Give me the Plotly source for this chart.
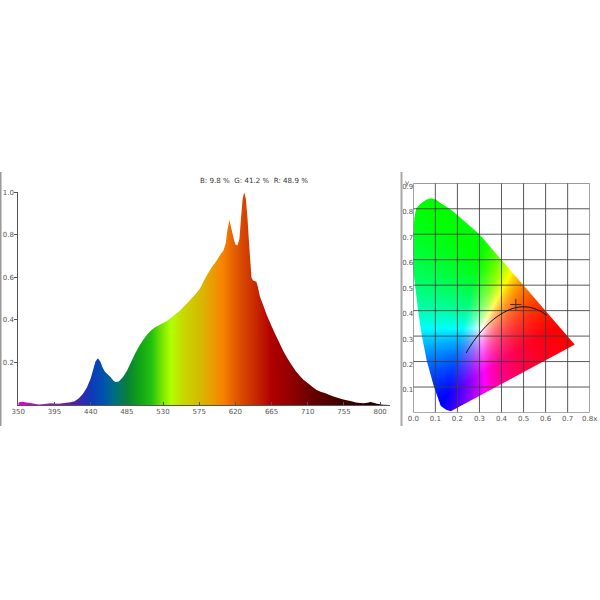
import numpy as np
import plotly.graph_objects as go

# ---------- spectrum ----------
wavelengths = [350,355,360,365,370,375,380,385,390,395,400,405,410,415,420,425,430,435,440,443,446,449,452,455,458,461,465,468,471,475,480,485,490,495,500,505,510,515,520,525,530,535,540,545,550,555,560,565,570,576,581,586,591,596,601,605,608,610,612.5,615,618,620,622.5,625,627,629,631,633,635,637,638.5,640,642,646,648,650.5,655,659,664,669,675,680,685,690,695,700,705,711,716,721,726,732,737,742,747,752,757,763,770,775,780,784,788,792,796,800,804,812]
intensity = [.012,.015,.012,.009,.006,.002,.004,.006,.008,.007,.006,.008,.01,.013,.018,.03,.05,.08,.125,.165,.205,.22,.205,.175,.155,.145,.13,.115,.108,.11,.13,.16,.2,.24,.275,.305,.33,.35,.365,.375,.385,.395,.41,.425,.44,.46,.478,.5,.52,.548,.585,.62,.65,.675,.705,.725,.76,.82,.87,.83,.78,.755,.75,.78,.88,.97,1.0,.97,.88,.76,.68,.6,.585,.58,.555,.51,.465,.423,.38,.337,.29,.25,.218,.188,.16,.138,.118,.10,.085,.07,.062,.055,.047,.04,.034,.028,.024,.019,.012,.009,.008,.011,.014,.01,.006,.003,.001,0]
color_stops = [(350,'#e000d8'),(385,'#b010b8'),(420,'#5020a8'),(440,'#1038b8'),(455,'#0050b0'),(470,'#006e80'),(485,'#088038'),(500,'#10a018'),(515,'#20c010'),(530,'#80e800'),(540,'#b0ff00'),(555,'#c8d800'),(575,'#d4bc00'),(590,'#e8a000'),(605,'#f88000'),(625,'#dc5000'),(645,'#c82800'),(665,'#b00000'),(690,'#900000'),(715,'#680000'),(750,'#400000'),(800,'#200000')]

wl_ticks = [350,395,440,485,530,575,620,665,710,755,800]
int_ticks = [0.2,0.4,0.6,0.8,1.0]
int_labels = ['0.2','0.4','0.6','0.8','1.0']

# ---------- chromaticity diagram, outline ----------
locus_x = [.172,.150,.126,.095,.063,.040,.023,.009,.002,0,.001,.006,.014,.028,.044,.062,.082,.104,.127,.155,.18,.24,.30,.35,.40,.45,.50,.60,.735,.172]
locus_y = [.003,.009,.024,.10,.20,.30,.40,.50,.55,.60,.70,.76,.80,.813,.825,.835,.84,.835,.82,.805,.79,.745,.70,.65,.60,.55,.50,.40,.265,.003]
planck_x = [.240,.2522,.2807,.3135,.3451,.3805,.4369,.4770,.5267,.5650,.5857,.606]
planck_y = [.234,.2521,.2884,.3237,.3516,.3768,.4041,.4137,.4133,.4027,.3931,.381]
point_x = [.465]
point_y = [.424]
xy_ticks_x = [0,.1,.2,.3,.4,.5,.6,.7,.8]
xy_ticks_y = [0,.1,.2,.3,.4,.5,.6,.7,.8,.9]
xy_labels_x = ['0.0','0.1','0.2','0.3','0.4','0.5','0.6','0.7','0.8x']
xy_labels_y = ['','0.1','0.2','0.3','0.4','0.5','0.6','0.7','0.8','0.9']

title_text = 'B: 9.8 %  G: 41.2 %  R: 48.9 %'
FONT = 'DejaVu Sans'
TICK = dict(family=FONT, size=7, color='#555555')
NX, NY, SS = 176, 229, 4


def field():
    nx, ny = NX * SS, NY * SS
    gx = (np.arange(nx) + .5) * .8 / nx
    gy = (np.arange(ny) + .5) * .9 / ny
    X, Y = np.meshgrid(gx, gy)
    Z = 1 - X - Y
    yy = np.maximum(Y, 1e-4)
    XX, ZZ = X / yy, Z / yy
    r = 3.2406 * XX - 1.5372 - .4986 * ZZ
    g = -.9689 * XX + 1.8758 + .0415 * ZZ
    b = .0557 * XX - .2040 + 1.0570 * ZZ
    rgb = np.clip(np.stack([r, g, b], -1), 0, None)
    rgb = rgb / rgb.max(-1, keepdims=True)
    px, py = np.array(locus_x), np.array(locus_y)
    inside = np.zeros(X.shape, bool)
    for i in range(len(px) - 1):
        x1, y1, x2, y2 = px[i], py[i], px[i + 1], py[i + 1]
        if y1 == y2:
            continue
        c = ((y1 > Y) != (y2 > Y)) & (X < (x2 - x1) * (Y - y1) / (y2 - y1) + x1)
        inside ^= c
    a = inside.astype(float)
    A = a.reshape(NY, SS, NX, SS).mean((1, 3))
    C = (rgb * a[..., None]).reshape(NY, SS, NX, SS, 3).sum((1, 3))
    C = C / np.maximum((a.reshape(NY, SS, NX, SS).sum((1, 3)))[..., None], 1)
    return np.dstack([np.round(C * 255), np.round(A, 3)])


fig = go.Figure()
lo, hi = color_stops[0][0], color_stops[-1][0]
fig.add_trace(go.Scatter(
    x=wavelengths, y=intensity, mode='none', fill='tozeroy', xaxis='x', yaxis='y',
    fillgradient=dict(type='horizontal', start=lo, stop=hi,
                      colorscale=[[(w - lo) / (hi - lo), c] for w, c in color_stops]),
    hoverinfo='skip', showlegend=False))

img = field()
fig.add_trace(go.Image(z=img[::-1].tolist(), colormodel='rgba', x0=.4/NX, dx=.8/NX,
                       y0=.9-.45/NY, dy=-.9/NY, xaxis='x2', yaxis='y2', hoverinfo='skip'))

gx, gy = [], []
for t in xy_ticks_x:
    gx += [t, t, None]
    gy += [0, .9, None]
for t in xy_ticks_y:
    gx += [0, .8, None]
    gy += [t, t, None]
fig.add_trace(go.Scatter(x=gx, y=gy, mode='lines', line=dict(color='rgba(60,60,60,.85)', width=1),
                         xaxis='x2', yaxis='y2', hoverinfo='skip', showlegend=False))
fig.add_trace(go.Scatter(x=planck_x, y=planck_y, mode='lines', line=dict(color='#111111', width=1, shape='spline'),
                         xaxis='x2', yaxis='y2', hoverinfo='skip', showlegend=False))
fig.add_trace(go.Scatter(x=point_x, y=point_y, mode='markers',
                         marker=dict(symbol='cross-thin', size=8, line=dict(color='#333333', width=1)),
                         xaxis='x2', yaxis='y2', hoverinfo='skip', showlegend=False))

W = H = 600.0
fig.update_layout(
    width=600, height=600, margin=dict(l=0, r=0, t=0, b=0), autosize=False,
    paper_bgcolor='white', plot_bgcolor='rgba(0,0,0,0)', showlegend=False,
    xaxis=dict(domain=[18.3/W, 390/W], range=[350, 812.3], anchor='y', tickmode='array', tickvals=wl_ticks,
               automargin=False, showgrid=False, zeroline=False, showline=True, linecolor='#555555', linewidth=1,
               ticks='inside', ticklen=3, tickcolor='#555555', tickfont=TICK),
    yaxis=dict(domain=[(H-405)/H, (H-192.3)/H], range=[0, 1], anchor='x', tickmode='array', tickvals=int_ticks,
               automargin=False, ticktext=int_labels, showgrid=False, zeroline=False, showline=True, linecolor='#555555', linewidth=1,
               ticks='outside', ticklen=3, tickcolor='#555555', tickfont=TICK, ticklabelstandoff=-1),
    xaxis2=dict(domain=[413.3/W, 589.7/W], range=[0, .8], anchor='y2', tickmode='array', tickvals=xy_ticks_x, scaleanchor=False,
                automargin=False, ticktext=xy_labels_x, showgrid=False, zeroline=False, showline=False, ticks='', tickfont=TICK),
    yaxis2=dict(domain=[(H-412.5)/H, (H-183.3)/H], range=[0, .9], anchor='x2', tickmode='array', tickvals=xy_ticks_y, scaleanchor=False,
                automargin=False, ticktext=xy_labels_y, showgrid=False, zeroline=False, showline=False, ticks='', tickfont=TICK,
                ticklabelstandoff=-1, ticklabelshift=3),
    annotations=[
        dict(text=title_text.replace('  ', '&nbsp;&nbsp;'), xref='paper', yref='paper', x=254/W, y=(H-174)/H, showarrow=False,
             font=dict(family=FONT, size=7.1, color='#333333')),
        dict(text='y', xref='paper', yref='paper', x=411/W, y=(H-176.5)/H, showarrow=False,
             font=TICK),
    ],
    shapes=[
        dict(type='rect', xref='paper', yref='paper', x0=0, x1=1.5/W, y0=(H-426)/H, y1=(H-172)/H,
             fillcolor='#999999', line_width=0),
        dict(type='rect', xref='paper', yref='paper', x0=400.5/W, x1=402.5/W, y0=(H-426)/H, y1=(H-172)/H,
             fillcolor='#a8a8a8', line_width=0),
    ],
)
fig.write_html('out.html', config={'displayModeBar': False},
               post_script="document.body.style.margin='0px';")
